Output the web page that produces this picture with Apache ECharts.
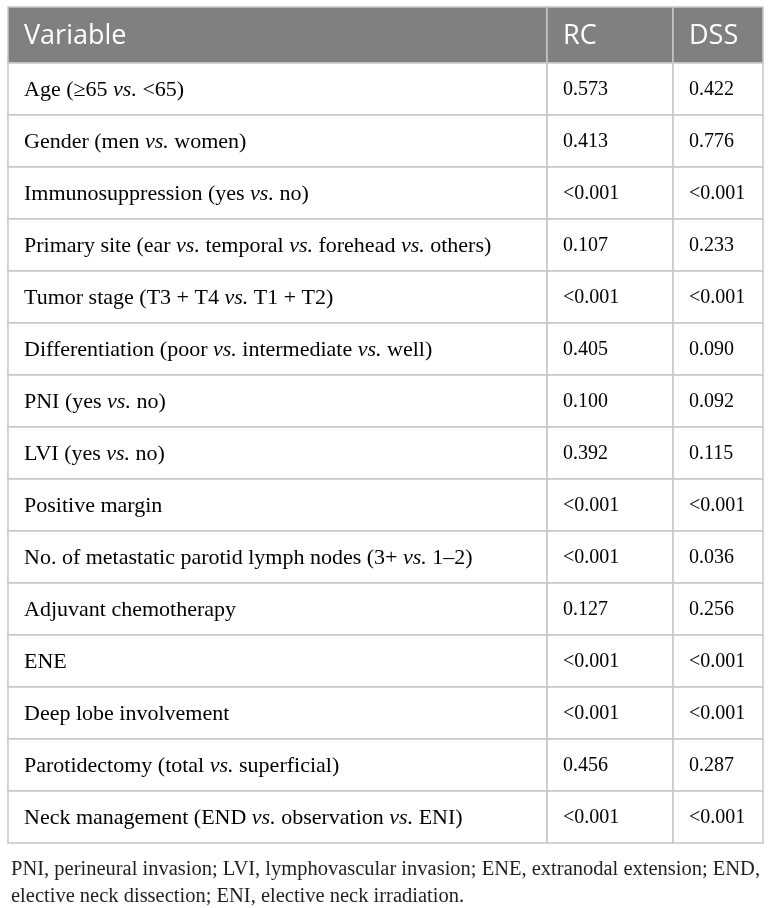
<!DOCTYPE html>
<html>
<head>
<meta charset="utf-8">
<script src="https://cdn.jsdelivr.net/npm/echarts@6/dist/echarts.min.js"></script>
<style>html,body{margin:0;padding:0;background:#fff;}#chart{width:772px;height:908px;}</style>
</head>
<body>
<div id="chart"></div>
<script>
const columns = ['Variable', 'RC', 'DSS'];
const variables = [
  'Age (≥65 vs. <65)',
  'Gender (men vs. women)',
  'Immunosuppression (yes vs. no)',
  'Primary site (ear vs. temporal vs. forehead vs. others)',
  'Tumor stage (T3 + T4 vs. T1 + T2)',
  'Differentiation (poor vs. intermediate vs. well)',
  'PNI (yes vs. no)',
  'LVI (yes vs. no)',
  'Positive margin',
  'No. of metastatic parotid lymph nodes (3+ vs. 1–2)',
  'Adjuvant chemotherapy',
  'ENE',
  'Deep lobe involvement',
  'Parotidectomy (total vs. superficial)',
  'Neck management (END vs. observation vs. ENI)'
];
const rcValues = ['0.573','0.413','<0.001','0.107','<0.001','0.405','0.100','0.392','<0.001','<0.001','0.127','<0.001','<0.001','0.456','<0.001'];
const dssValues = ['0.422','0.776','<0.001','0.233','<0.001','0.090','0.092','0.115','<0.001','0.036','0.256','<0.001','<0.001','0.287','<0.001'];
const footnote = 'PNI, perineural invasion; LVI, lymphovascular invasion; ENE, extranodal extension; END,\nelective neck dissection; ENI, elective neck irradiation.';

// layout (pixel units inside the grid)
const colEdges = [0, 539, 665, 755];
const headerH = 56;
const rowH = 52;
const tableH = headerH + rowH * variables.length;

const cells = [];
const cellTexts = [];
columns.forEach((c, ci) => { cells.push([ci, -1]); cellTexts.push(c); });
variables.forEach((v, ri) => {
  [v, rcValues[ri], dssValues[ri]].forEach((t, ci) => { cells.push([ci, ri]); cellTexts.push(t); });
});

function toRich(s) {
  return s.split('vs.').map(p => p ? '{n|' + p + '}' : '').join('{i|vs.}');
}

const serif = '"Liberation Serif", "Times New Roman", serif';
const sans = '"Open Sans", "Noto Sans", sans-serif';

function renderItem(params, api) {
  const ci = api.value(0), ri = api.value(1);
  const y0 = ri < 0 ? 0 : headerH + ri * rowH;
  const y1 = ri < 0 ? headerH : y0 + rowH;
  const p0 = api.coord([colEdges[ci], y0]);
  const p1 = api.coord([colEdges[ci + 1], y1]);
  const x = Math.min(p0[0], p1[0]), y = Math.min(p0[1], p1[1]);
  const w = Math.abs(p1[0] - p0[0]), h = Math.abs(p1[1] - p0[1]);
  const isHeader = ri < 0;
  const txt = cellTexts[params.dataIndex];
  const fs = ci === 0 ? 22 : 20;
  const textStyle = isHeader ? {
    text: txt, x: x + 16, y: y + h / 2 + 1, align: 'left', verticalAlign: 'middle',
    fill: '#ffffff', font: '27px ' + sans
  } : {
    text: toRich(txt), x: x + 16, y: y + h / 2 + 1, align: 'left', verticalAlign: 'middle',
    rich: {
      n: { fontFamily: serif, fontSize: fs, color: '#231f20' },
      i: { fontFamily: serif, fontSize: fs, fontStyle: 'italic', color: '#231f20' }
    }
  };
  return {
    type: 'group',
    children: [
      { type: 'rect', shape: { x: x, y: y, width: w, height: h },
        style: { fill: isHeader ? '#808080' : '#ffffff', stroke: '#c6c6c6', lineWidth: 1.5 } },
      { type: 'text', style: textStyle }
    ]
  };
}

const chart = echarts.init(document.getElementById('chart'), null, { renderer: 'canvas' });
chart.setOption({
  animation: false,
  backgroundColor: '#ffffff',
  title: {
    text: footnote, left: 6, top: 851,
    textStyle: { fontFamily: serif, fontSize: 20.5, fontWeight: 'normal', color: '#231f20', lineHeight: 27 }
  },
  grid: { left: 8, top: 7, width: 755, height: tableH },
  xAxis: { type: 'value', min: 0, max: colEdges[3], show: false },
  yAxis: { type: 'value', min: 0, max: tableH, inverse: true, show: false },
  series: [{
    type: 'custom', renderItem: renderItem, data: cells,
    encode: { x: 0, y: 1 }, clip: false
  }]
});
</script>
</body>
</html>
